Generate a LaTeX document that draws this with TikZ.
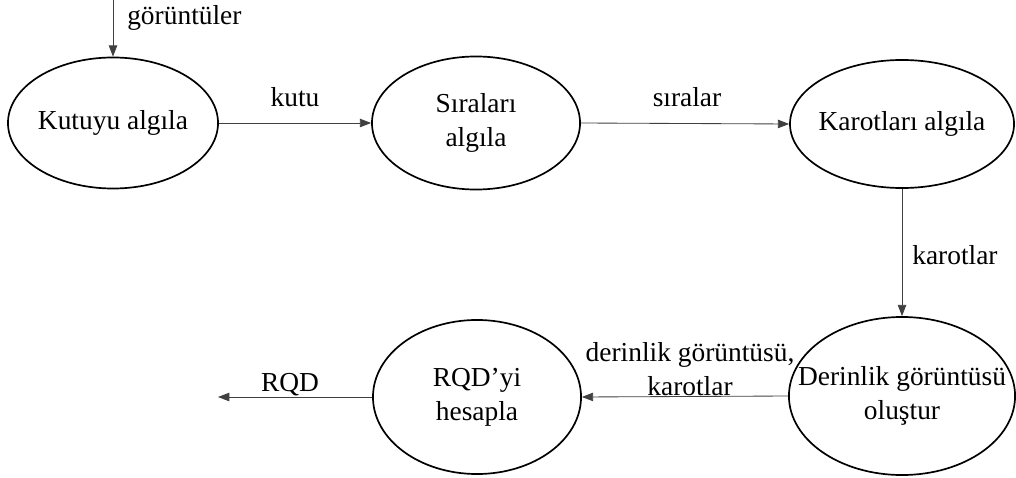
\documentclass[tikz,border=0pt]{standalone}
\usepackage{fontspec}
\setmainfont{Liberation Serif}
\usetikzlibrary{shapes.geometric,arrows.meta}

\tikzset{
  process/.style={draw,line width=1.2pt,ellipse,inner xsep=-0.6cm,inner ysep=0pt,align=center},
  flow/.style={draw=black!75,line width=0.6pt,-{Triangle[length=8pt,width=6pt]}},
  flowlabel/.style={inner sep=0pt,align=center}
}

\begin{document}
\begin{tikzpicture}[x=0.025cm,y=-0.025cm,font=\fontsize{19.5}{24}\selectfont]
        \useasboundingbox (0,0) rectangle (1016,478);
        % Processen
        \node[process,minimum width=5.25cm,minimum height=3.275cm] (kutu) at (113,123) {Kutuyu algıla};
        \node[process,minimum width=5.2cm,minimum height=3.325cm] (sira) at (476,123) {Sıraları\\algıla};
        \node[process,minimum width=5.6cm,minimum height=3.2cm] (karot) at (902,124) {Karotları algıla};
        \node[process,minimum width=5.65cm,minimum height=3.95cm] (derin) at (902,396) {Derinlik görüntüsü\\oluştur};
        \node[process,minimum width=5.2cm,minimum height=3.85cm] (rqd) at (477,397) {RQD'yi\\hesapla};
        % Vrije uiteinden
        \coordinate (giris) at (113,0);
        \coordinate (cikis) at (218,397);
        % Verbindingen
        \draw[flow] (giris) -- (kutu.north);
        \draw[flow] (kutu.east) -- (sira.west);
        \draw[flow] (sira.east) -- (karot.west);
        \draw[flow] (karot.south) -- (derin.north);
        \draw[flow] (derin.west) -- (rqd.east);
        \draw[flow] (rqd.west) -- (cikis);
        % Labels
        \node[flowlabel,anchor=west] (lgoruntu) at (127,18) {görüntüler};
        \node[flowlabel] (lkutu) at (295,97) {kutu};
        \node[flowlabel] (lsira) at (687,97) {sıralar};
        \node[flowlabel,anchor=west] (lkarot) at (912,255) {karotlar};
        \node[flowlabel] (lderin) at (690,369) {derinlik görüntüsü,\\karotlar};
        \node[flowlabel] (lrqd) at (290,385) {RQD};
\end{tikzpicture}
\end{document}
